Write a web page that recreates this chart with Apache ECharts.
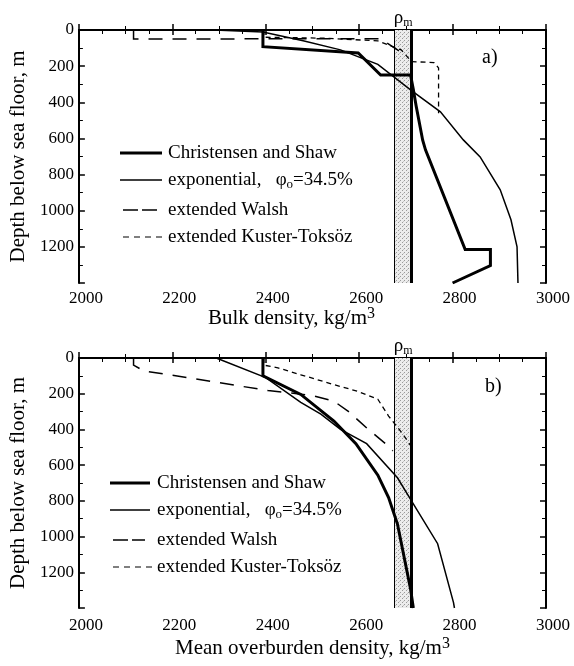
<!DOCTYPE html>
<html>
<head>
<meta charset="utf-8">
<script src="https://cdn.jsdelivr.net/npm/echarts@6/dist/echarts.min.js"></script>
<style>
html,body{margin:0;padding:0;background:#fff;}
#chart{width:574px;height:666px;}
</style>
</head>
<body>
<div id="chart"></div>
<script>
// ---------- data ----------
const xTicks = [2000, 2200, 2400, 2600, 2800, 3000];
const depthTicks = [0, 200, 400, 600, 800, 1000, 1200];
const rhoBand = [2676, 2712];

// a) bulk density
const csBulkX  = [2394, 2394, 2598, 2646, 2710, 2716, 2722, 2736, 2742, 2827, 2881, 2881, 2800];
const csBulkD  = [0, 92, 127, 249, 249, 330, 420, 610, 663, 1215, 1215, 1304, 1400];
const expBulkX = [2290, 2394, 2480, 2560, 2640, 2710, 2774, 2823, 2859, 2902, 2925, 2938, 2940];
const expBulkD = [0, 11, 60, 110, 190, 331, 453, 608, 702, 884, 1050, 1200, 1400];
const walshBulkX = [2117, 2117, 2646, 2682, 2700];
const walshBulkD = [0, 50, 48, 110, 140];
const ktBulkX = [2396, 2396, 2520, 2640, 2690, 2712, 2760, 2770, 2770];
const ktBulkD = [0, 40, 45, 60, 110, 175, 180, 210, 460];

// b) mean overburden density
const csOvbX  = [2394, 2394, 2475, 2546, 2593, 2640, 2663, 2682, 2710, 2716];
const csOvbD  = [0, 100, 204, 353, 480, 656, 782, 930, 1293, 1400];
const expOvbX = [2294, 2400, 2475, 2518, 2560, 2616, 2682, 2714, 2768, 2802, 2804];
const expOvbD = [0, 110, 248, 314, 400, 480, 671, 809, 1040, 1370, 1400];
const walshOvbX = [2117, 2117, 2139, 2247, 2352, 2405, 2500, 2546, 2576, 2618, 2661, 2672];
const walshOvbD = [0, 40, 72, 116, 160, 182, 210, 242, 297, 396, 490, 520];
const ktOvbX = [2396, 2396, 2426, 2475, 2546, 2597, 2640, 2663, 2693, 2710];
const ktOvbD = [0, 40, 55, 94, 149, 187, 231, 325, 424, 490];

// ---------- chart ----------
const SERIF = '"Liberation Serif", "Times New Roman", serif';
const pts = (xs, ds) => xs.map((x, i) => [x, ds[i]]);

// stipple pattern for the rho_m band
const pat = document.createElement('canvas');
pat.width = 4; pat.height = 4;
(function () {
  const c = pat.getContext('2d');
  c.fillStyle = '#ececec'; c.fillRect(0, 0, 4, 4);
  c.fillStyle = '#9a9a9a';
  c.fillRect(0, 0, 1, 1); c.fillRect(2, 2, 1, 1);
  c.fillStyle = '#c4c4c4';
  c.fillRect(3, 1, 1, 1);
})();

function xAxisPair(grid, name, labelMargin, nameGap, namePad) {
  return [
    {
      gridIndex: grid, type: 'value', min: xTicks[0], max: xTicks[xTicks.length - 1], interval: 200,
      position: 'bottom',
      axisLine: { lineStyle: { color: '#000', width: 2 } },
      axisTick: { inside: true, length: 6, lineStyle: { color: '#000', width: 1.5 } },
      minorTick: { show: true, splitNumber: 2, length: 4, lineStyle: { color: '#000', width: 1 } },
      splitLine: { show: false },
      axisLabel: {
        fontFamily: SERIF, fontSize: 17, color: '#000', margin: labelMargin,
        padding: [0, 0, 0, 14],
        formatter: v => (xTicks.indexOf(v) >= 0 ? String(v) : '')
      },
      name: name, nameLocation: 'middle', nameGap: nameGap, nameMoveOverlap: false,
      nameTextStyle: {
        fontFamily: SERIF, fontSize: 21, color: '#000', padding: namePad,
        rich: { sup: { fontFamily: SERIF, fontSize: 16, color: '#000', padding: [0, 0, 9, 0] } }
      }
    },
    {
      gridIndex: grid, type: 'value', min: xTicks[0], max: xTicks[xTicks.length - 1], interval: 200,
      position: 'top',
      axisLine: { lineStyle: { color: '#000', width: 2 } },
      axisTick: { inside: true, length: 5, lineStyle: { color: '#000', width: 1.5 } },
      minorTick: { show: true, splitNumber: 4, length: 4, lineStyle: { color: '#000', width: 1 } },
      splitLine: { show: false },
      axisLabel: { show: false }
    }
  ];
}
function yAxisPair(grid) {
  return [
    {
      gridIndex: grid, type: 'value', inverse: true, min: 0, max: 1400, interval: 200,
      position: 'left',
      axisLine: { lineStyle: { color: '#000', width: 2 } },
      axisTick: { inside: true, length: 6, lineStyle: { color: '#000', width: 1.5 } },
      minorTick: { show: true, splitNumber: 2, length: 4, lineStyle: { color: '#000', width: 1 } },
      splitLine: { show: false },
      axisLabel: {
        fontFamily: SERIF, fontSize: 17, color: '#000', margin: 5,
        formatter: v => (depthTicks.indexOf(v) >= 0 ? String(v) : '')
      },
      name: 'Depth below sea floor, m', nameLocation: 'middle', nameGap: 38,
      nameTextStyle: { fontFamily: SERIF, fontSize: 21, color: '#000' }
    },
    {
      gridIndex: grid, type: 'value', inverse: true, min: 0, max: 1400, interval: 200,
      position: 'right',
      axisLine: { lineStyle: { color: '#000', width: 2 } },
      axisTick: { inside: true, length: 6, lineStyle: { color: '#000', width: 1.5 } },
      minorTick: { show: true, splitNumber: 2, length: 4, lineStyle: { color: '#000', width: 1 } },
      splitLine: { show: false },
      axisLabel: { show: false }
    }
  ];
}

function band(grid) {
  return {
    type: 'line', xAxisIndex: grid * 2, yAxisIndex: grid * 2, data: [], silent: true, z: 1,
    markArea: {
      silent: true,
      itemStyle: { color: { image: pat, repeat: 'repeat' } },
      label: {
        show: true, position: 'top', distance: 1,
        formatter: '{r|ρ}{m|m}',
        rich: {
          r: { fontFamily: SERIF, fontSize: 19, color: '#000' },
          m: { fontFamily: SERIF, fontSize: 12, color: '#000', padding: [9, 0, 0, 0] }
        }
      },
      data: [[{ xAxis: rhoBand[0], yAxis: 0 }, { xAxis: rhoBand[1], yAxis: 1400 }]]
    },
    markLine: {
      silent: true, symbol: 'none', label: { show: false },
      data: [
        { xAxis: rhoBand[0], lineStyle: { color: '#000', width: 1, type: 'solid' } },
        { xAxis: rhoBand[1], lineStyle: { color: '#000', width: 3, type: 'solid' } }
      ]
    }
  };
}

function curve(grid, name, xs, ds, width, type) {
  return {
    type: 'line', name: name, xAxisIndex: grid * 2, yAxisIndex: grid * 2,
    data: pts(xs, ds), showSymbol: false, symbol: 'none', z: 5,
    lineStyle: { color: '#000', width: width, type: type, cap: 'butt', join: 'miter' },
    animation: false
  };
}

function legend(x0, x1, tx, ys) {
  const font = SERIF;
  const items = [];
  items.push({ type: 'line', shape: { x1: x0, y1: ys[0], x2: x1, y2: ys[0] }, style: { stroke: '#000', lineWidth: 3 } });
  items.push({ type: 'line', shape: { x1: x0, y1: ys[1], x2: x1, y2: ys[1] }, style: { stroke: '#000', lineWidth: 1.5 } });
  items.push({ type: 'line', shape: { x1: x0 + 3, y1: ys[2], x2: x1 - 5, y2: ys[2] }, style: { stroke: '#000', lineWidth: 1.5, lineDash: [15, 4] } });
  items.push({ type: 'line', shape: { x1: x0 + 3, y1: ys[3], x2: x1 + 2, y2: ys[3] }, style: { stroke: '#000', lineWidth: 1.2, lineDash: [6, 5] } });
  const texts = ['Christensen and Shaw', 'exponential,   {p|φ}{s|o}=34.5%', 'extended Walsh', 'extended Kuster-Toksöz'];
  texts.forEach((t, i) => {
    items.push({
      type: 'text', x: tx, y: ys[i],
      style: {
        text: t, fill: '#000', fontFamily: font, fontSize: 19, verticalAlign: 'middle', align: 'left',
        rich: {
          p: { fontFamily: font, fontSize: 19, fill: '#000' },
          s: { fontFamily: font, fontSize: 13, fill: '#000', padding: [9, 0, 0, 0] }
        }
      }
    });
  });
  return items;
}

const chart = echarts.init(document.getElementById('chart'), null, { renderer: 'canvas' });
chart.setOption({
  animation: false,
  backgroundColor: '#fff',
  grid: [
    { left: 77, right: 28, top: 30, height: 253 },
    { left: 77, right: 28, top: 358, height: 250 }
  ],
  xAxis: [].concat(
    xAxisPair(0, 'Bulk density, kg/m{sup|3}', 7, 23, [0, 42, 0, 0]),
    xAxisPair(1, 'Mean overburden density, kg/m{sup|3}', 9, 28, [0, 0, 0, 0])
  ),
  yAxis: [].concat(yAxisPair(0), yAxisPair(1)),
  series: [
    band(0),
    curve(0, 'Christensen and Shaw', csBulkX, csBulkD, 3, 'solid'),
    curve(0, 'exponential', expBulkX, expBulkD, 1.5, 'solid'),
    curve(0, 'extended Walsh', walshBulkX, walshBulkD, 1.5, [14, 10]),
    curve(0, 'extended Kuster-Toksöz', ktBulkX, ktBulkD, 1.3, [5, 4]),
    band(1),
    curve(1, 'Christensen and Shaw', csOvbX, csOvbD, 3, 'solid'),
    curve(1, 'exponential', expOvbX, expOvbD, 1.5, 'solid'),
    curve(1, 'extended Walsh', walshOvbX, walshOvbD, 1.5, [14, 10]),
    curve(1, 'extended Kuster-Toksöz', ktOvbX, ktOvbD, 1.3, [5, 4])
  ],
  graphic: [].concat(
    legend(120, 162, 168, [153, 180, 210, 237]),
    legend(110, 150, 157, [483, 510, 540, 567]),
    [
      { type: 'text', x: 482, y: 58, style: { text: 'a)', fill: '#000', fontFamily: SERIF, fontSize: 20, verticalAlign: 'middle' } },
      { type: 'text', x: 485, y: 387, style: { text: 'b)', fill: '#000', fontFamily: SERIF, fontSize: 20, verticalAlign: 'middle' } }
    ]
  )
});
</script>
</body>
</html>
